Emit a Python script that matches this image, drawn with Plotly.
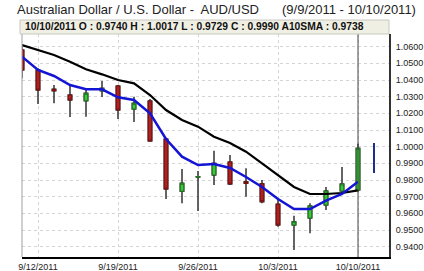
import plotly.graph_objects as go

dates = ["2011-09-09", "2011-09-12", "2011-09-13", "2011-09-14", "2011-09-15", "2011-09-16",
         "2011-09-19", "2011-09-20", "2011-09-21", "2011-09-22", "2011-09-23",
         "2011-09-26", "2011-09-27", "2011-09-28", "2011-09-29", "2011-09-30",
         "2011-10-03", "2011-10-04", "2011-10-05", "2011-10-06", "2011-10-07",
         "2011-10-10"]
opens  = [1.0580, 1.0460, 1.0345, 1.0310, 1.0275, 1.0335, 1.0364, 1.0226, 1.0274, 1.0046, 0.9733,
          0.9818, 0.9830, 0.9908, 0.9790, 0.9777, 0.9655, 0.9530, 0.9572, 0.9650, 0.9734, 0.9740]
highs  = [1.0600, 1.0470, 1.0370, 1.0364, 1.0340, 1.0394, 1.0370, 1.0300, 1.0286, 1.0050, 0.9866,
          0.9854, 0.9975, 0.9950, 0.9870, 0.9800, 0.9690, 0.9585, 0.9660, 0.9758, 0.9878, 1.0017]
lows   = [1.0410, 1.0256, 1.0260, 1.0178, 1.0180, 1.0298, 1.0166, 1.0148, 1.0030, 0.9686, 0.9660,
          0.9614, 0.9770, 0.9770, 0.9700, 0.9660, 0.9520, 0.9380, 0.9480, 0.9620, 0.9722, 0.9729]
closes = [1.0460, 1.0340, 1.0335, 1.0280, 1.0320, 1.0350, 1.0220, 1.0260, 1.0034, 0.9746, 0.9780,
          0.9820, 0.9900, 0.9776, 0.9780, 0.9670, 0.9530, 0.9550, 0.9644, 0.9734, 0.9776, 0.9990]
sma_short = [1.0540, 1.0460, 1.0424, 1.0370, 1.0344, 1.0344, 1.0296, 1.0280, 1.0200, 1.0046, 0.9940,
             0.9890, 0.9896, 0.9872, 0.9818, 0.9758, 0.9686, 0.9626, 0.9626, 0.9676, 0.9716, 0.9790]
sma10 = [1.0610, 1.0580, 1.0550, 1.0510, 1.0464, 1.0434, 1.0400, 1.0380, 1.0310, 1.0220, 1.0160,
         1.0120, 1.0060, 1.0022, 0.9970, 0.9900, 0.9830, 0.9758, 0.9716, 0.9716, 0.9722, 0.9738]
next_day = ["2011-10-11", "2011-10-11"]
next_range = [1.0022, 0.9842]
tick_dates = ["2011-09-12", "2011-09-19", "2011-09-26", "2011-10-03", "2011-10-10"]
tick_labels = ["9/12/2011", "9/19/2011", "9/26/2011", "10/3/2011", "10/10/2011"]
title_left = "Australian Dollar / U.S. Dollar -  AUD/USD"
title_right = "(9/9/2011 - 10/10/2011)"
info_text = "10/10/2011 O : 0.9740 H : 1.0017 L : 0.9729 C : 0.9990 A10SMA : 0.9738"

body_hi = [max(o, c) for o, c in zip(opens, closes)]
body_lo = [min(o, c) for o, c in zip(opens, closes)]

fig = go.Figure()
# wicks
fig.add_trace(go.Candlestick(
    x=dates, open=opens, high=highs, low=lows, close=closes,
    increasing=dict(line=dict(color="#333333", width=1.5), fillcolor="rgba(0,0,0,0)"),
    decreasing=dict(line=dict(color="#333333", width=1.5), fillcolor="rgba(0,0,0,0)"),
    whiskerwidth=0, hoverinfo="skip"))
# bodies
fig.add_trace(go.Candlestick(
    x=dates, open=opens, high=body_hi, low=body_lo, close=closes,
    increasing=dict(line=dict(color="#1f7a1f", width=1), fillcolor="#3cc83c"),
    decreasing=dict(line=dict(color="#7a1010", width=1), fillcolor="#b02020"),
    whiskerwidth=0, hoverinfo="skip"))
fig.add_trace(go.Scatter(x=dates, y=sma10, mode="lines",
                         line=dict(color="#000000", width=2.2)))
fig.add_trace(go.Scatter(x=dates, y=sma_short, mode="lines",
                         line=dict(color="#1414d4", width=2.5)))
fig.add_trace(go.Scatter(x=next_day, y=next_range, mode="lines",
                         line=dict(color="#1c2f8a", width=2)))

fig.update_layout(
    width=424, height=271,
    margin=dict(l=22, r=35, t=34, b=14),
    paper_bgcolor="white", plot_bgcolor="white",
    showlegend=False,
    boxgap=0.68,
    font=dict(family="Arial, Liberation Sans, sans-serif", color="#222222"),
    xaxis=dict(
        type="date", automargin=False,
        range=["2011-09-09", "2011-10-11 22:30"],
        rangebreaks=[dict(bounds=["sat", "mon"])],
        rangeslider=dict(visible=False),
        tickvals=tick_dates, ticktext=tick_labels,
        tickfont=dict(size=9, color="#222222"),
        showgrid=True, gridcolor="#d4d4d4", griddash="dot", gridwidth=1,
        showline=True, linecolor="#000000", linewidth=2,
        ticks="", zeroline=False,
    ),
    yaxis=dict(
        side="right", automargin=False,
        range=[0.9338, 1.0676],
        tick0=0.94, dtick=0.01, tickformat=".4f",
        tickfont=dict(size=9, color="#222222"),
        showgrid=True, gridcolor="#d4d4d4", griddash="dot", gridwidth=1,
        showline=True, linecolor="#333333", linewidth=2,
        ticks="outside", ticklen=3, tickcolor="#ffffff",
        zeroline=False,
    ),
)

# left axis line
fig.add_shape(type="line", xref="paper", yref="paper", x0=0, x1=0, y0=0, y1=1,
              line=dict(color="#a0a0a0", width=1))
# crosshair at last date
fig.add_shape(type="line", xref="x", yref="paper", x0=dates[-1], x1=dates[-1], y0=0, y1=1,
              line=dict(color="#444444", width=1))
# info box
fig.add_shape(type="rect", xref="paper", yref="paper",
              x0=-2/367, x1=1.0, y0=1.0, y1=1 + 14/223,
              fillcolor="#f0efe4", line=dict(color="#c8c8c0", width=1), layer="above")
fig.add_annotation(xref="paper", yref="paper", x=1/367, y=1 + 7/223,
                   xanchor="left", yanchor="middle", showarrow=False,
                   text="<b>" + info_text + "</b>",
                   font=dict(size=10.3, color="#111111"))
# titles
fig.add_annotation(xref="paper", yref="paper", x=-7/367, y=1 + 24/223,
                   xanchor="left", yanchor="middle", showarrow=False,
                   text=title_left, font=dict(size=13, color="#222222"))
fig.add_annotation(xref="paper", yref="paper", x=258/367, y=1 + 24/223,
                   xanchor="left", yanchor="middle", showarrow=False,
                   text=title_right, font=dict(size=13, color="#222222"))

fig.write_html("out.html", config=dict(displayModeBar=False))
